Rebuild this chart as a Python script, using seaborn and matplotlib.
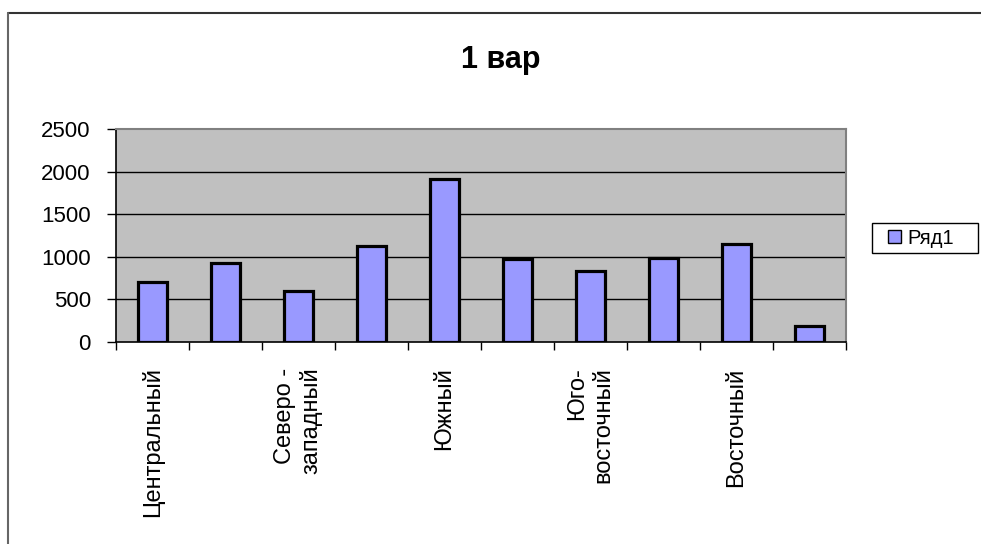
import matplotlib
matplotlib.use("Agg")
import matplotlib.pyplot as plt
from matplotlib.lines import Line2D
from matplotlib.patches import Patch, Rectangle
import seaborn as sns
import pandas as pd
import numpy as np

# Data
tick_labels = ["Центральный", "", "Северо -\nзападный", "", "Южный", "",
               "Юго-\nвосточный", "", "Восточный", ""]
values = [700, 930, 600, 1130, 1915, 970, 835, 990, 1150, 190]
series_name = "Ряд1"
title = "1 вар"
yticks = [0, 500, 1000, 1500, 2000, 2500]

sns.set_theme(style="white")
plt.rcParams['font.family'] = ['Liberation Sans', 'DejaVu Sans']
plt.rcParams['text.color'] = 'black'
plt.rcParams['xtick.color'] = 'black'
plt.rcParams['ytick.color'] = 'black'

df = pd.DataFrame({"pos": [str(i) for i in range(len(values))], "value": values})

W, H = 981, 544
fig = plt.figure(figsize=(W / 100, H / 100), dpi=100)
fig.patch.set_facecolor("white")
ax = fig.add_axes([115.7 / W, 1 - 341.7 / H, (845.7 - 115.7) / W, (341.7 - 129.3) / H])
ax.set_facecolor("#c0c0c0")

sns.barplot(data=df, x="pos", y="value", color="#9999ff", saturation=1,
            width=0.4, edgecolor="black", linewidth=2.3, ax=ax, zorder=3)

ax.set_xlim(-0.5, len(values) - 0.5)
ax.set_ylim(0, 2500)
ax.set_yticks(yticks)
ax.set_yticklabels([str(v) for v in yticks], fontsize=16, color="black")
for v in yticks[1:-1]:
    ax.axhline(v, color="black", lw=1.0, zorder=1)

ax.set_xticks(range(len(values)))
ax.set_xticklabels(tick_labels, rotation=90, fontsize=17, va="top", ha="center",
                   multialignment="right", color="black")
ax.tick_params(axis="x", which="major", length=0, pad=18.5)
ax.set_xticks(np.arange(-0.5, len(values), 1.0), minor=True)
ax.tick_params(axis="x", which="minor", length=6, width=1, color="black", direction="out", bottom=True)
ax.tick_params(axis="y", length=6.5, width=1, color="black", direction="out", left=True, pad=11.5)
ax.set_xlabel("")
ax.set_ylabel("")

for s in ["left", "bottom"]:
    ax.spines[s].set_color("black")
    ax.spines[s].set_linewidth(1.2)
for s in ["top", "right"]:
    ax.spines[s].set_color("#808080")
    ax.spines[s].set_linewidth(1.5)

fig.text(501 / W, 1 - 68 / H, title, ha="center", va="baseline", fontsize=22,
         fontweight="bold", color="black")

# legend box
fig.add_artist(Rectangle((872 / W, 1 - 253 / H), (978 - 872) / W, (253 - 223) / H,
                         facecolor="white", edgecolor="black", lw=1, transform=fig.transFigure))
handle = Patch(facecolor="#9999ff", edgecolor="black", linewidth=1)
leg = fig.legend([handle], [series_name], loc="center left", bbox_to_anchor=(888 / W, 1 - 238 / H),
                 fontsize=14.5, frameon=False, handlelength=0.65, handleheight=0.65,
                 handletextpad=0.3, borderpad=0.0, borderaxespad=0.0, labelcolor="black")

# outer chart border (top & left visible)
fig.add_artist(Line2D([8 / W, 1], [1 - 13 / H, 1 - 13 / H], color="#333333", lw=1.5, transform=fig.transFigure))
fig.add_artist(Line2D([8 / W, 8 / W], [0, 1 - 13 / H], color="#666666", lw=1.5, transform=fig.transFigure))

fig.savefig("out.png", dpi=100)
